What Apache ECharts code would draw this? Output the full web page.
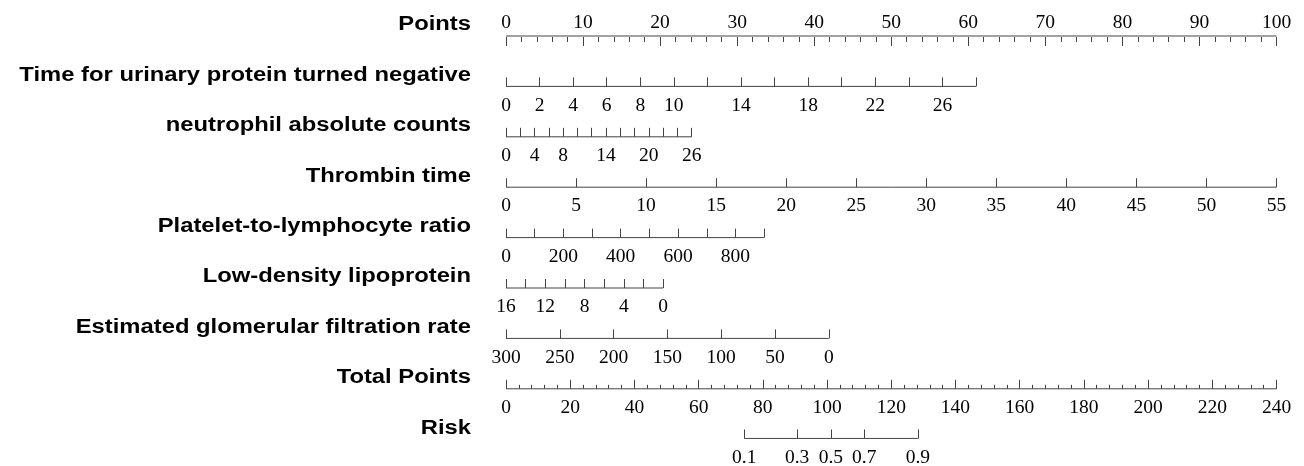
<!DOCTYPE html>
<html>
<head>
<meta charset="utf-8">
<script src="https://cdn.jsdelivr.net/npm/echarts@6/dist/echarts.min.js"></script>
<style>
  html, body { margin: 0; padding: 0; background: #fff; }
  #chart { width: 1304px; height: 466px; }
</style>
</head>
<body>
<div id="chart"></div>
<script>
// Nomogram rows, top to bottom
const rowNames = [
  'Points',
  'Time for urinary protein turned negative',
  'neutrophil absolute counts',
  'Thrombin time',
  'Platelet-to-lymphocyte ratio',
  'Low-density lipoprotein',
  'Estimated glomerular filtration rate',
  'Total Points',
  'Risk'
];

// Points scale
const pointsTicks = [0, 10, 20, 30, 40, 50, 60, 70, 80, 90, 100];

// Predictor scales: tick values, labelled values, points reached at the last tick
const urinaryTicks = [0, 2, 4, 6, 8, 10, 12, 14, 16, 18, 20, 22, 24, 26, 28];
const urinaryLabels = [0, 2, 4, 6, 8, 10, 14, 18, 22, 26];
const urinaryPoints = 61;

const neutrophilTicks = [0, 2, 4, 6, 8, 10, 12, 14, 16, 18, 20, 22, 24, 26];
const neutrophilLabels = [0, 4, 8, 14, 20, 26];
const neutrophilPoints = 24.1;

const thrombinTicks = [0, 5, 10, 15, 20, 25, 30, 35, 40, 45, 50, 55];
const thrombinLabels = [0, 5, 10, 15, 20, 25, 30, 35, 40, 45, 50, 55];
const thrombinPoints = 100;

const plrTicks = [0, 100, 200, 300, 400, 500, 600, 700, 800, 900];
const plrLabels = [0, 200, 400, 600, 800];
const plrPoints = 33.5;

const ldlTicks = [16, 14, 12, 10, 8, 6, 4, 2, 0];
const ldlLabels = [16, 12, 8, 4, 0];
const ldlPoints = 20.4;

const egfrTicks = [300, 250, 200, 150, 100, 50, 0];
const egfrLabels = [300, 250, 200, 150, 100, 50, 0];
const egfrPoints = 41.9;

// Total points scale
const totalTicks = [0, 20, 40, 60, 80, 100, 120, 140, 160, 180, 200, 220, 240];

// Risk labels and the total points where each falls
const riskLabels = ['0.1', '0.3', '0.5', '0.7', '0.9'];
const riskTotalPoints = [74.2, 90.7, 101.2, 111.6, 128.3];

// ---- layout ----
const LEFT = 506, RIGHT = 27.5;
const ROW0 = 36, ROW_GAP = 50.4;
const NAME_X = 471;
const LINE_COLOR = '#444';
const LABEL_FONT = { color: '#000', fontFamily: 'Liberation Serif', fontSize: 19.5 };
const TICK_STYLE = { color: LINE_COLOR, width: 1 };

const rowY = i => ROW0 + i * ROW_GAP;

const grids = [], xAxes = [], yAxes = [], series = [], texts = [];

function addRow(i, axis, lineFrom, lineTo, top) {
  const y = rowY(i);
  grids.push({ left: LEFT, right: RIGHT, top: top ? y : y - 1, height: 1, containLabel: false });
  xAxes.push(Object.assign({
    gridIndex: i,
    type: 'value',
    position: top ? 'top' : 'bottom',
    axisLine: { show: false },
    splitLine: { show: false }
  }, axis, {
    axisTick: Object.assign({ show: true, inside: true, length: 9, lineStyle: TICK_STYLE }, axis.axisTick || {}),
    axisLabel: Object.assign({
      show: true, margin: top ? 3 : 9, hideOverlap: false, showMinLabel: true, showMaxLabel: true
    }, LABEL_FONT, axis.axisLabel || {})
  }));
  yAxes.push({ gridIndex: i, type: 'value', min: 0, max: 1, show: false });
  const yv = top ? 1 : 0;
  series.push({
    type: 'line',
    xAxisIndex: i, yAxisIndex: i,
    data: [[lineFrom, yv], [lineTo, yv]],
    symbol: 'none', clip: false, silent: true,
    lineStyle: { color: LINE_COLOR, width: 1 }
  });
  texts.push({
    type: 'text', x: NAME_X, y: y - 11, scaleX: 1.22,
    style: {
      text: rowNames[i], font: 'bold 19.5px "Liberation Sans", Arial, sans-serif', fill: '#000',
      align: 'right', verticalAlign: 'middle', textAlign: 'right', textVerticalAlign: 'middle'
    }
  });
}

// axis range so that the first tick sits at 0 points and the last at `pts` points
function predictorAxis(ticks, labels, pts) {
  const a = ticks[0], b = ticks[ticks.length - 1];
  const span = Math.abs(b - a) * 100 / pts;
  const rev = b < a;
  return {
    min: rev ? a - span : a,
    max: rev ? a : a + span,
    inverse: rev,
    axisTick: { customValues: ticks },
    axisLabel: { customValues: labels }
  };
}

addRow(0, {
  min: 0, max: 100, interval: 10,
  minorTick: { show: true, splitNumber: 5, length: 5, lineStyle: TICK_STYLE },
  axisLabel: { customValues: pointsTicks }
}, 0, 100, true);

addRow(1, predictorAxis(urinaryTicks, urinaryLabels, urinaryPoints), urinaryTicks[0], urinaryTicks[urinaryTicks.length - 1]);
addRow(2, predictorAxis(neutrophilTicks, neutrophilLabels, neutrophilPoints), neutrophilTicks[0], neutrophilTicks[neutrophilTicks.length - 1]);
addRow(3, predictorAxis(thrombinTicks, thrombinLabels, thrombinPoints), thrombinTicks[0], thrombinTicks[thrombinTicks.length - 1]);
addRow(4, predictorAxis(plrTicks, plrLabels, plrPoints), plrTicks[0], plrTicks[plrTicks.length - 1]);
addRow(5, predictorAxis(ldlTicks, ldlLabels, ldlPoints), ldlTicks[0], ldlTicks[ldlTicks.length - 1]);
addRow(6, predictorAxis(egfrTicks, egfrLabels, egfrPoints), egfrTicks[0], egfrTicks[egfrTicks.length - 1]);

addRow(7, {
  min: 0, max: 240, interval: 20,
  minorTick: { show: true, splitNumber: 5, length: 4, lineStyle: TICK_STYLE },
  axisLabel: { customValues: totalTicks }
}, 0, 240);

addRow(8, {
  min: 0, max: 240,
  axisTick: { customValues: riskTotalPoints },
  axisLabel: {
    customValues: riskTotalPoints,
    formatter: v => riskLabels[riskTotalPoints.indexOf(v)]
  }
}, riskTotalPoints[0], riskTotalPoints[riskTotalPoints.length - 1]);

const chart = echarts.init(document.getElementById('chart'), null, { renderer: 'canvas' });
chart.setOption({
  animation: false,
  backgroundColor: '#fff',
  grid: grids,
  xAxis: xAxes,
  yAxis: yAxes,
  series: series,
  graphic: texts
});
</script>
</body>
</html>
